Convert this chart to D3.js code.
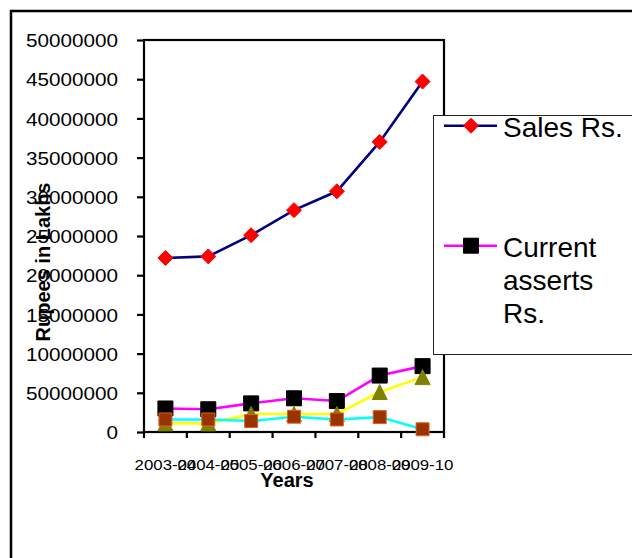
<!DOCTYPE html>
<html>
<head>
<meta charset="utf-8">
<script src="https://cdn.jsdelivr.net/npm/d3@7"></script>
<style>
  html, body { margin: 0; padding: 0; background: #fff; }
  svg { display: block; font-family: "Liberation Sans", Arial, sans-serif; }
</style>
</head>
<body>
<svg id="chart" width="632" height="558"></svg>
<script>
// Financial year categories
const years = ["2003-04", "2004-05", "2005-06", "2006-07", "2007-08", "2008-09", "2009-10"];

// Series values (Rupees in Lakhs)
const sales          = [22200000, 22400000, 25100000, 28300000, 30700000, 37000000, 44700000];
const currentAsserts = [3000000, 2900000, 3650000, 4300000, 3950000, 7200000, 8400000];
const thirdSeries    = [1100000, 1100000, 2300000, 2300000, 2300000, 5100000, 7000000];
const fourthSeries   = [1600000, 1600000, 1400000, 1950000, 1600000, 1900000, 350000];

// Axis ticks and their labels
const yTickValues = [0, 5000000, 10000000, 15000000, 20000000, 25000000, 30000000, 35000000, 40000000, 45000000, 50000000];
const yTickLabels = ["0", "50000000", "10000000", "15000000", "20000000", "25000000", "30000000", "35000000", "40000000", "45000000", "50000000"];

const legendNames = ["Sales Rs.", "Current asserts Rs."];

const series = [
  { values: sales,          line: "#000080", marker: "diamond",  fill: "#ff0000", stroke: "#ff0000", size: 15 },
  { values: currentAsserts, line: "#ff00ff", marker: "square",   fill: "#000000", stroke: "#000000", size: 15 },
  { values: thirdSeries,    line: "#ffff00", marker: "triangle", fill: "#808000", stroke: "#808000", size: 15 },
  { values: fourthSeries,   line: "#00ffff", marker: "square",   fill: "#993300", stroke: "#e06020", size: 13 }
];

const svg = d3.select("#chart");

const plotLeft = 144, plotRight = 444, plotTop = 40, plotBottom = 432;

const x = d3.scaleBand().domain(years).range([plotLeft, plotRight]);
const y = d3.scaleLinear().domain([0, 50000000]).range([plotBottom, plotTop]);

// outer chart border
svg.append("rect")
  .attr("x", 11).attr("y", 11).attr("width", 700).attr("height", 700)
  .attr("fill", "none").attr("stroke", "#000").attr("stroke-width", 2.5);

// plot area frame
svg.append("rect")
  .attr("x", plotLeft).attr("y", plotTop).attr("width", plotRight - plotLeft).attr("height", plotBottom - plotTop)
  .attr("fill", "none").attr("stroke", "#000").attr("stroke-width", 2.2);

// y axis
const yAxis = svg.append("g")
  .attr("transform", `translate(${plotLeft},0)`)
  .call(d3.axisLeft(y).tickValues(yTickValues).tickSize(7).tickPadding(0)
    .tickFormat((d, i) => yTickLabels[i]));
yAxis.select(".domain").remove();
yAxis.selectAll(".tick line").attr("stroke", "#000").attr("stroke-width", 2.2);
yAxis.selectAll(".tick text")
  .attr("x", null).attr("dy", null)
  .attr("transform", "translate(-26,0) scale(1.09,1)")
  .attr("dominant-baseline", "central")
  .attr("font-size", 19).attr("font-family", "Liberation Sans, Arial, sans-serif")
  .attr("fill", "#000");

// x axis: ticks at category boundaries, labels at category centres
const xAxis = svg.append("g").attr("transform", `translate(0,${plotBottom})`);
const boundaries = years.map(d => x(d)).concat([x.range()[1]]);
xAxis.selectAll("line.tick")
  .data(boundaries)
  .join("line")
  .attr("class", "tick")
  .attr("x1", d => d).attr("x2", d => d)
  .attr("y1", 0).attr("y2", 6)
  .attr("stroke", "#000").attr("stroke-width", 2.2);
xAxis.selectAll("text.label")
  .data(years)
  .join("text")
  .attr("class", "label")
  .attr("transform", d => `translate(${x(d) + x.bandwidth() / 2},38) scale(1.2,1)`)
  .attr("text-anchor", "middle")
  .attr("font-size", 14)
  .attr("fill", "#000")
  .text(d => d);

// axis titles
svg.append("text")
  .attr("transform", "translate(50,262) rotate(-90)")
  .attr("text-anchor", "middle")
  .attr("font-size", 20).attr("font-weight", "bold")
  .text("Rupees in Lakhs");
svg.append("text")
  .attr("x", 287).attr("y", 487)
  .attr("text-anchor", "middle")
  .attr("font-size", 20).attr("font-weight", "bold")
  .text("Years");

// marker shapes
function markerPath(type, size) {
  const h = size / 2;
  if (type === "diamond") return `M0,${-h}L${h},0L0,${h}L${-h},0Z`;
  if (type === "triangle") return `M0,${-h}L${h},${h}L${-h},${h}Z`;
  return `M${-h},${-h}H${h}V${h}H${-h}Z`;
}

const line = d3.line()
  .x((d, i) => x(years[i]) + x.bandwidth() / 2)
  .y(d => y(d));

// each series: line first, then its markers
series.forEach(s => {
  const g = svg.append("g");
  g.append("path")
    .attr("d", line(s.values))
    .attr("fill", "none")
    .attr("stroke", s.line)
    .attr("stroke-width", 2.6);
  g.selectAll("path.marker")
    .data(s.values)
    .join("path")
    .attr("class", "marker")
    .attr("transform", (d, i) => `translate(${x(years[i]) + x.bandwidth() / 2},${y(d)})`)
    .attr("d", markerPath(s.marker, s.size))
    .attr("fill", s.fill)
    .attr("stroke", s.stroke)
    .attr("stroke-width", 1);
});

// legend (box runs past the right edge)
const legend = svg.append("g");
legend.append("rect")
  .attr("x", 433.5).attr("y", 115.5).attr("width", 260).attr("height", 239)
  .attr("fill", "#fff").attr("stroke", "#222").attr("stroke-width", 1);

const legendRows = [
  { s: series[0], lineY: 125.7, lines: ["Sales Rs."], baseline: 136.7 },
  { s: series[1], lineY: 245.7, lines: ["Current", "asserts", "Rs."], baseline: 257.3 }
];
legendRows.forEach((r, idx) => {
  legend.append("line")
    .attr("x1", 444).attr("x2", 497)
    .attr("y1", r.lineY).attr("y2", r.lineY)
    .attr("stroke", r.s.line).attr("stroke-width", 2.6);
  legend.append("path")
    .attr("transform", `translate(471,${r.lineY})`)
    .attr("d", markerPath(r.s.marker, r.s.size))
    .attr("fill", r.s.fill).attr("stroke", r.s.stroke);
  const t = legend.append("text")
    .attr("x", 503).attr("y", r.baseline)
    .attr("font-size", 28).attr("fill", "#000")
    .attr("aria-label", legendNames[idx]);
  r.lines.forEach((w, k) => {
    t.append("tspan").attr("x", 503).attr("y", r.baseline + k * 32.7).text(w);
  });
});
</script>
</body>
</html>
